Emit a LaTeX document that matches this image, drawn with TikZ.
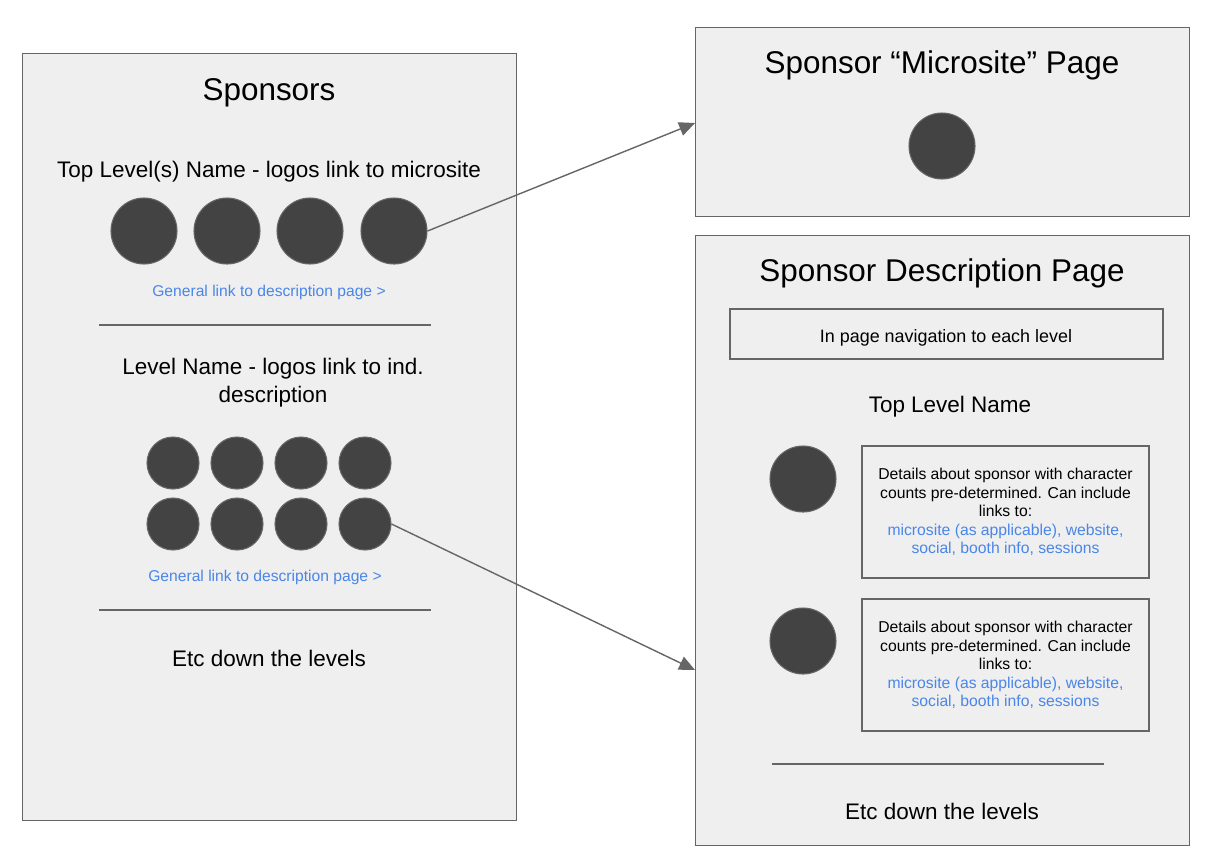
\documentclass[tikz,border=0pt]{standalone}
\usepackage{fontspec}
\setmainfont{Liberation Sans}
\usetikzlibrary{arrows.meta}
\definecolor{panelfill}{HTML}{EFEFEF}
\definecolor{edgegray}{HTML}{666666}
\definecolor{dotfill}{HTML}{434343}
\definecolor{linkblue}{HTML}{4A86E8}
\begin{document}
\begin{tikzpicture}[x=0.02cm,y=-0.02cm,
  panel/.style={draw=edgegray,fill=panelfill,line width=0.8pt},
  logo/.style={circle,draw=edgegray,fill=dotfill,line width=0.6pt,inner sep=0pt,minimum size=#1},
  logo/.default=66*0.02cm,
  bigtitle/.style={font=\fontsize{17.9}{21}\selectfont,align=center},
  midtext/.style={font=\fontsize{12.8}{15.9}\selectfont,align=center},
  linktext/.style={font=\fontsize{8.9}{10.5}\selectfont,text=linkblue},
  detailbox/.style={draw=edgegray,line width=0.8pt,minimum width=287*0.02cm,minimum height=132*0.02cm,align=center,inner sep=0pt,font=\fontsize{8.95}{10.5}\selectfont},
  sep/.style={draw=edgegray,line width=0.8pt},
  conn/.style={draw=edgegray,line width=0.8pt,-{Triangle[length=9pt,width=8pt]}}
]
\useasboundingbox[fill=white] (0,0) rectangle (1214,860);
% left panel
\node[panel,anchor=north west,minimum width=494*0.02cm,minimum height=767*0.02cm,inner sep=0pt] (left) at (22,53) {};
\node[bigtitle] (ltitle) at (269,93) {Sponsors};
\node[midtext] (ltop) at (269,172) {Top Level(s) Name - logos link to microsite};
\node[logo] (a1) at (144,231) {};
\node[logo] (a2) at (227,231) {};
\node[logo] (a3) at (310,231) {};
\node[logo] (a4) at (394,231) {};
\node[linktext] (l1) at (269,292) {General link to description page >};
\coordinate (s1a) at (99,325); \coordinate (s1b) at (431,325);
\draw[sep] (s1a) -- (s1b);
\node[midtext] (llevel) at (273,383) {Level Name - logos link to ind.\\description};
\foreach \i/\x in {1/173,2/237,3/301,4/365}{
  \node[logo=52*0.02cm] (b\i) at (\x,463) {};
  \node[logo=52*0.02cm] (c\i) at (\x,524) {};
}
\node[linktext] (l2) at (265,577) {General link to description page >};
\coordinate (s2a) at (99,610); \coordinate (s2b) at (431,610);
\draw[sep] (s2a) -- (s2b);
\node[midtext] (letc) at (269,658) {Etc down the levels};
% top right panel
\node[panel,anchor=north west,minimum width=494*0.02cm,minimum height=189*0.02cm,inner sep=0pt] (micro) at (695,27) {};
\node[bigtitle] (mtitle) at (942,65) {Sponsor “Microsite” Page};
\node[logo] (m1) at (942,146) {};
% bottom right panel
\node[panel,anchor=north west,minimum width=494*0.02cm,minimum height=610*0.02cm,inner sep=0pt] (desc) at (695,235) {};
\node[bigtitle] (dtitle) at (942,273) {Sponsor Description Page};
\node[draw=edgegray,line width=0.8pt,minimum width=433*0.02cm,minimum height=50*0.02cm,inner sep=0pt] (nav) at (946.5,334) {};
\node[font=\fontsize{10.2}{12}\selectfont] (navtext) at (946,338) {In page navigation to each level};
\node[midtext] (dtop) at (950,407) {Top Level Name};
\node[logo] (d1) at (803,479) {};
\node[detailbox] (box1) at (1005.5,512) {Details about sponsor with character\\counts pre-determined. Can include\\links to:\\\textcolor{linkblue}{microsite (as applicable), website,}\\\textcolor{linkblue}{social, booth info, sessions}};
\node[logo] (d2) at (803,641) {};
\node[detailbox] (box2) at (1005.5,665) {Details about sponsor with character\\counts pre-determined. Can include\\links to:\\\textcolor{linkblue}{microsite (as applicable), website,}\\\textcolor{linkblue}{social, booth info, sessions}};
\coordinate (s3a) at (772,764); \coordinate (s3b) at (1104,764);
\draw[sep] (s3a) -- (s3b);
\node[midtext] (detc) at (942,811) {Etc down the levels};
% connectors
\coordinate (t1) at (695,123);
\coordinate (t2) at (695,670);
\draw[conn] (a4.east) -- (t1);
\draw[conn] (c4.east) -- (t2);
\end{tikzpicture}
\end{document}
